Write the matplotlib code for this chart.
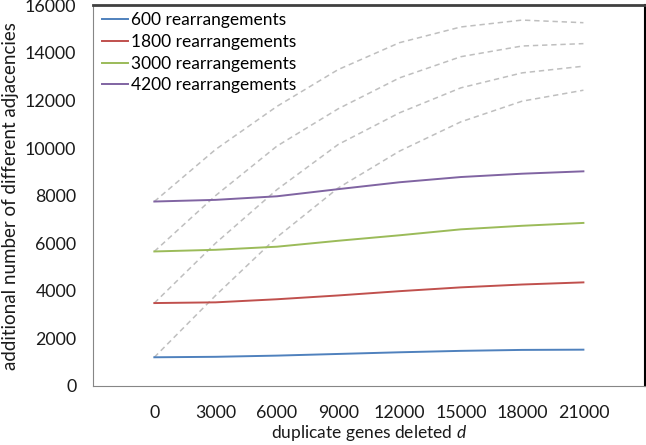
import numpy as np
import matplotlib.pyplot as plt

plt.rcParams['font.family'] = ['Lato', 'DejaVu Sans']
plt.rcParams['mathtext.fontset'] = 'custom'
plt.rcParams['mathtext.rm'] = 'Lato'
plt.rcParams['mathtext.it'] = 'Lato:italic'

# deleted duplicate genes d (categorical x axis)
d_labels = ['0', '3000', '6000', '9000', '12000', '15000', '18000', '21000']

# solid series: additional number of different adjacencies
r600 = [1200, 1220, 1270, 1340, 1410, 1470, 1510, 1520]
r1800 = [3480, 3510, 3640, 3800, 3980, 4140, 4260, 4350]
r3000 = [5650, 5720, 5850, 6100, 6330, 6580, 6730, 6850]
r4200 = [7750, 7820, 7970, 8270, 8560, 8780, 8920, 9020]

# grey dashed reference curves
g4200 = [7750, 9940, 11750, 13300, 14430, 15090, 15380, 15270]
g3000 = [5650, 8000, 10080, 11650, 12950, 13840, 14290, 14390]
g1800 = [3480, 6000, 8250, 10150, 11480, 12530, 13160, 13440]
g600 = [1200, 3800, 6250, 8320, 9870, 11100, 11970, 12430]

series = [(r600, '#4F81BD', '600 rearrangements'),
          (r1800, '#C0504D', '1800 rearrangements'),
          (r3000, '#9BBB59', '3000 rearrangements'),
          (r4200, '#8064A2', '4200 rearrangements')]

x = np.arange(len(d_labels))

fig = plt.figure(figsize=(6.46, 4.45), dpi=100)
ax = fig.add_axes([0.144, 0.133, 0.854, 0.855])

for g in [g4200, g3000, g1800, g600]:
    ax.plot(x, g, color='#BFBFBF', lw=1.1, ls=(0, (3.5, 2.5)))

for vals, col, lab in series:
    ax.plot(x, vals, color=col, lw=1.4, label=lab)

ax.set_xlim(-1, len(d_labels))
ax.set_ylim(0, 16000)
ax.set_xticks(x)
ax.set_xticklabels(d_labels)
ax.set_yticks(np.arange(0, 16001, 2000))
ax.tick_params(axis='both', length=0, labelsize=12.8, colors='#1a1a1a')
ax.tick_params(axis='x', pad=14)
ax.tick_params(axis='y', pad=12)

ax.set_xlabel('duplicate genes deleted $d$', fontsize=12.5, labelpad=1, color='#1a1a1a')
ax.set_ylabel('additional number of different adjacencies', fontsize=13.5, labelpad=4, color='#1a1a1a')

ax.spines['left'].set_color('#868686')
ax.spines['bottom'].set_color('#868686')
ax.spines['top'].set_color('#404040')
ax.spines['top'].set_linewidth(2)
ax.spines['right'].set_color('black')
ax.spines['right'].set_linewidth(1.5)

ax.legend(loc='upper left', frameon=False, fontsize=12.5, handlelength=1.5,
          handletextpad=0.2, labelspacing=0.33, borderaxespad=0.1,
          bbox_to_anchor=(0.0, 1.005))

fig.savefig('out.png', dpi=100)
